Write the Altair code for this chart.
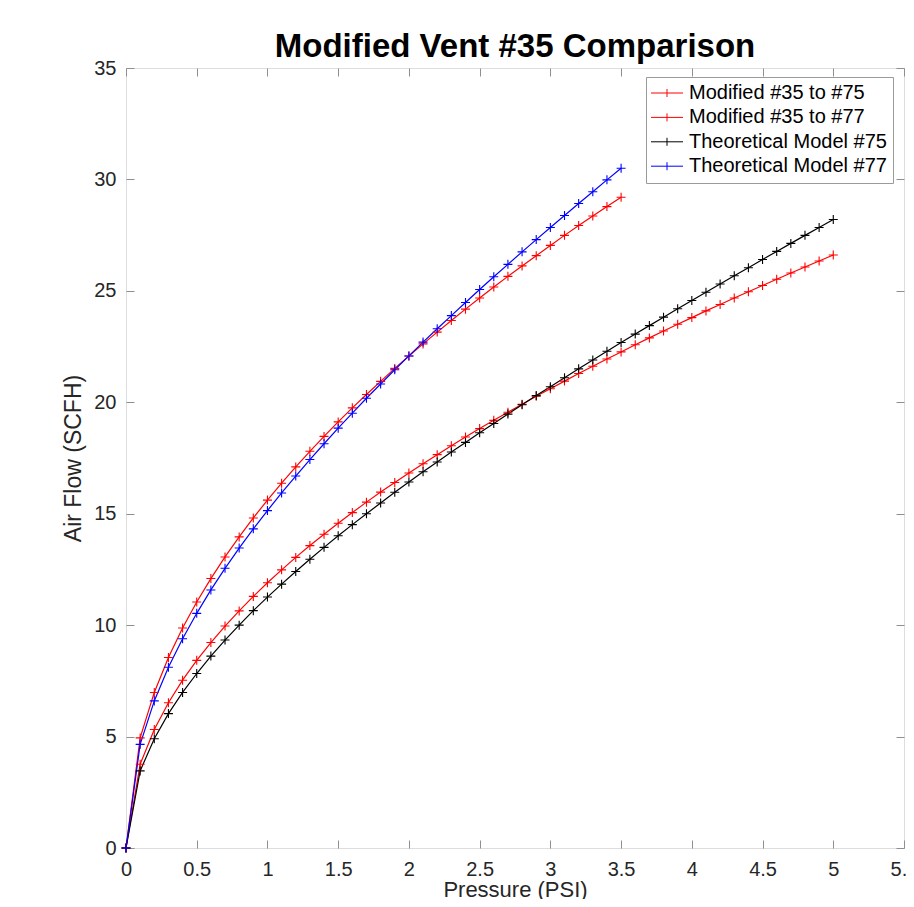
import altair as alt
import pandas as pd

# ---- data ----
pressure = [0.0, 0.1, 0.2, 0.3, 0.4, 0.5, 0.6, 0.7, 0.8, 0.9,
            1.0, 1.1, 1.2, 1.3, 1.4, 1.5, 1.6, 1.7, 1.8, 1.9,
            2.0, 2.1, 2.2, 2.3, 2.4, 2.5, 2.6, 2.7, 2.8, 2.9,
            3.0, 3.1, 3.2, 3.3, 3.4, 3.5, 3.6, 3.7, 3.8, 3.9,
            4.0, 4.1, 4.2, 4.3, 4.4, 4.5, 4.6, 4.7, 4.8, 4.9, 5.0]

mod_35_to_75 = [0.0, 3.76, 5.32, 6.52, 7.53, 8.42, 9.22, 9.96, 10.64, 11.29,
                11.90, 12.48, 13.04, 13.57, 14.08, 14.57, 15.05, 15.52, 15.97, 16.40,
                16.83, 17.24, 17.65, 18.05, 18.44, 18.82, 19.19, 19.55, 19.91, 20.27,
                20.61, 20.95, 21.29, 21.62, 21.94, 22.26, 22.58, 22.89, 23.20, 23.50,
                23.80, 24.10, 24.39, 24.68, 24.96, 25.24, 25.52, 25.80, 26.07, 26.34, 26.61]

mod_35_to_77 = [0.0, 4.94, 6.98, 8.55, 9.87, 11.04, 12.09, 13.06, 13.96, 14.81,
                15.61, 16.37, 17.10, 17.80, 18.47, 19.12, 19.75, 20.35, 20.94, 21.52,
                22.08, 22.62, 23.15, 23.67, 24.18, 24.68, 25.17, 25.65, 26.12, 26.58,
                27.04, 27.49, 27.93, 28.36, 28.78, 29.20]

theo_75 = [0.0, 3.46, 4.90, 6.03, 6.98, 7.83, 8.61, 9.33, 10.00, 10.65,
           11.26, 11.84, 12.41, 12.96, 13.49, 14.01, 14.51, 15.00, 15.48, 15.96,
           16.42, 16.88, 17.32, 17.77, 18.20, 18.63, 19.05, 19.47, 19.89, 20.30,
           20.70, 21.10, 21.50, 21.90, 22.29, 22.68, 23.06, 23.44, 23.82, 24.20,
           24.57, 24.94, 25.31, 25.68, 26.04, 26.41, 26.77, 27.13, 27.49, 27.84, 28.20]

theo_77 = [0.0, 4.65, 6.60, 8.11, 9.39, 10.53, 11.58, 12.55, 13.46, 14.32,
           15.14, 15.93, 16.69, 17.43, 18.14, 18.84, 19.51, 20.18, 20.82, 21.46,
           22.08, 22.70, 23.30, 23.89, 24.48, 25.06, 25.63, 26.19, 26.75, 27.30,
           27.84, 28.38, 28.92, 29.45, 29.98, 30.50]

series_names = ["Modified #35 to #75", "Modified #35 to #77",
                "Theoretical Model #75", "Theoretical Model #77"]
series_values = [mod_35_to_75, mod_35_to_77, theo_75, theo_77]
series_colors = ["#ff0000", "#ff0000", "#000000", "#0000ff"]

x_ticks = [0, 0.5, 1, 1.5, 2, 2.5, 3, 3.5, 4, 4.5, 5, 5.5]
y_ticks = [0, 5, 10, 15, 20, 25, 30, 35]

rows = []
for order, (name, vals) in enumerate(zip(series_names, series_values)):
    for p, v in zip(pressure, vals):
        rows.append({"series": name, "order": order, "p": p, "flow": v})
df = pd.DataFrame(rows)

FONT = "Liberation Sans"
FRAME = "#8f8f8f"
TEXT = "#262626"

xscale = alt.Scale(domain=[0, 5.5], nice=False, zero=False)
yscale = alt.Scale(domain=[0, 35], nice=False, zero=False)
cscale = alt.Scale(domain=series_names, range=series_colors)

legend = alt.Legend(
    title=None, orient="none", legendX=520, legendY=9,
    symbolType="M-2.75,0H5.25M1.25,-1V1", symbolSize=64, symbolStrokeWidth=1,
    symbolFillColor="transparent",
    labelFont=FONT, labelFontSize=20, labelColor="#000000", labelOffset=17,
    padding=6, rowPadding=4.4, strokeColor="#9a9a9a", fillColor="white",
    labelLimit=400,
)

main_x = alt.Axis(title="Pressure (PSI)", values=x_ticks, format="~g", domain=False,
                  ticks=False, tickSize=0, grid=False, labelFont=FONT, labelFontSize=20,
                  labelPadding=11, labelColor=TEXT, titleFont=FONT, titleFontSize=22,
                  titleFontWeight="normal", titleColor=TEXT, titlePadding=0,
                  labelFlush=False, labelOverlap=False)
main_y = alt.Axis(title="Air Flow (SCFH)", values=y_ticks, domain=False, ticks=False,
                  tickSize=0, grid=False, labelFont=FONT, labelFontSize=20,
                  labelPadding=10, labelColor=TEXT, titleFont=FONT, titleFontSize=23,
                  titleFontWeight="normal", titleColor=TEXT, titlePadding=8,
                  labelFlush=False, labelOverlap=False)


def tick_axis(orient, values):
    return alt.Axis(orient=orient, offset=-8, values=values, title=None, labels=False,
                    domain=False, grid=False, ticks=True, tickSize=8, tickColor=FRAME,
                    tickWidth=1)


lines = alt.Chart(df).mark_line(strokeWidth=1.2).encode(
    x=alt.X("p:Q", scale=xscale, axis=main_x),
    y=alt.Y("flow:Q", scale=yscale, axis=main_y),
    color=alt.Color("series:N", scale=cscale, legend=legend, sort=series_names),
    detail="series:N",
    order="p:Q",
)

points = alt.Chart(df).mark_point(
    shape="M-1,0H1M0,-1V1", size=81, filled=False, strokeWidth=1.1, opacity=1
).encode(
    x=alt.X("p:Q", scale=xscale, axis=tick_axis("bottom", x_ticks)),
    y=alt.Y("flow:Q", scale=yscale, axis=tick_axis("left", y_ticks)),
    color=alt.Color("series:N", scale=cscale, legend=legend, sort=series_names),
)

frame_ticks = alt.Chart(df).mark_point(opacity=0, size=1).encode(
    x=alt.X("p:Q", scale=xscale, axis=tick_axis("top", x_ticks)),
    y=alt.Y("flow:Q", scale=yscale, axis=tick_axis("right", y_ticks)),
)

chart = alt.layer(lines, points, frame_ticks).resolve_axis(
    x="independent", y="independent"
).properties(
    width=778, height=780,
    title=alt.TitleParams("Modified Vent #35 Comparison", font=FONT, fontSize=33,
                          fontWeight="bold", color="#000000", anchor="middle", offset=-6),
    autosize=alt.AutoSizeParams(type="none"),
    padding={"left": 118, "top": 60, "right": 2, "bottom": 51},
).configure_view(
    stroke=FRAME, strokeWidth=1
).configure(background="white")

chart.save("out.html", embed_options={"renderer": "svg", "actions": False})
